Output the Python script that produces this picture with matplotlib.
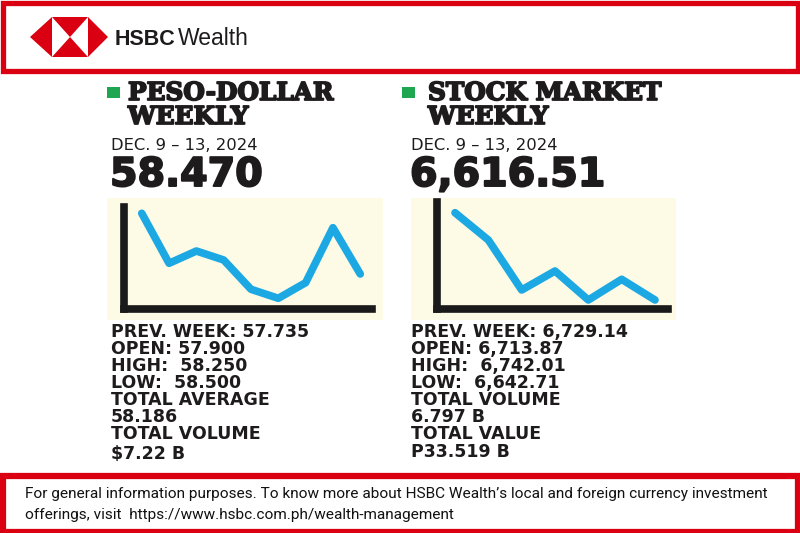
import matplotlib
matplotlib.use("Agg")
import matplotlib.pyplot as plt
import matplotlib.patheffects as pe
from matplotlib.patches import Polygon, Rectangle
from matplotlib import font_manager as fm

# ---------------- data (relative heights read from the sparklines) -------------
peso_days = list(range(9))
peso_values = [95.7, 45.7, 58.0, 49.0, 19.7, 10.7, 26.3, 81.3, 35.0]

psei_days = list(range(7))
psei_values = [96.3, 69.0, 19.0, 38.0, 9.0, 29.7, 9.0]

peso_title = ["PESO-DOLLAR", "WEEKLY"]
psei_title = ["STOCK MARKET", "WEEKLY"]
date_label = "DEC. 9 \u2013 13, 2024"
peso_close = "58.470"
psei_close = "6,616.51"

peso_stats = ["PREV. WEEK: 57.735", "OPEN: 57.900", "HIGH:  58.250", "LOW:  58.500",
              "TOTAL AVERAGE", "58.186", "TOTAL VOLUME", "$7.22 B"]
psei_stats = ["PREV. WEEK: 6,729.14", "OPEN: 6,713.87", "HIGH:  6,742.01", "LOW:  6,642.71",
              "TOTAL VOLUME", "6.797 B", "TOTAL VALUE", "P33.519 B"]

footer_lines = ["For general information purposes. To know more about HSBC Wealth\u2019s local and foreign currency investment",
                "offerings, visit  https://www.hsbc.com.ph/wealth-management"]

# ---------------- style ----------------
RED = "#DB0011"
GREEN = "#1FA650"
BLUE = "#1CA8E3"
INK = "#1E1B1C"
PANEL = "#FDFAE6"

installed = {f.name for f in fm.fontManager.ttflist}
foot_font = "Liberation Sans Narrow" if "Liberation Sans Narrow" in installed else (
    "Roboto" if "Roboto" in installed else "DejaVu Sans")

W, H = 800, 533
fig = plt.figure(figsize=(W / 100, H / 100), dpi=100)
fig.patch.set_facecolor("white")

# overlay axes in pixel coordinates (y downward) for decoration and text
ov = fig.add_axes([0, 0, 1, 1])
ov.set_xlim(0, W)
ov.set_ylim(H, 0)
ov.axis("off")
ov.set_zorder(0)

# header box
ov.add_patch(Rectangle((2.5, 2.5), W - 5, 68, fill=False, ec=RED, lw=3.8))
# HSBC hexagon
sq_l, sq_r, top, bot, mid = 52, 88, 17, 57, 37
ov.add_patch(Polygon([(30, mid), (sq_l, top), (sq_l, bot)], closed=True, fc=RED, ec="none"))
ov.add_patch(Polygon([(108, mid), (sq_r, top), (sq_r, bot)], closed=True, fc=RED, ec="none"))
ov.add_patch(Polygon([(sq_l, top), (sq_r, top), ((sq_l + sq_r) / 2, mid)], closed=True, fc=RED, ec="none"))
ov.add_patch(Polygon([(sq_l, bot), (sq_r, bot), ((sq_l + sq_r) / 2, mid)], closed=True, fc=RED, ec="none"))
ov.text(115, 45, "HSBC", fontsize=15.5, fontweight="bold", family="Liberation Sans",
        color=INK, va="baseline", ha="left")
ov.text(178, 45, "Wealth", fontsize=16.5, family="Liberation Sans",
        color=INK, va="baseline", ha="left")

# footer box
ov.add_patch(Rectangle((2.5, 475.5), W - 5, 56, fill=False, ec=RED, lw=4.5))
ov.text(25, 498, footer_lines[0], fontsize=11.1, family=foot_font, color="#111111",
        va="baseline", ha="left")
ov.text(25, 519, footer_lines[1], fontsize=11.1, family=foot_font, color="#111111",
        va="baseline", ha="left")

heavy_title = [pe.withStroke(linewidth=1.3, foreground=INK)]
heavy_num = [pe.withStroke(linewidth=1.4, foreground=INK)]


def column(x_sq, x_title, x_text, titles, close, stats, baselines, panel, ax_box,
           days, values, xlim, ylim):
    # green bullet
    ov.add_patch(Rectangle((x_sq, 87), 13, 11, fc=GREEN, ec="none"))
    ov.text(x_title, 100, titles[0], fontsize=17.8, fontweight="bold", family="DejaVu Serif",
            color=INK, va="baseline", ha="left", path_effects=heavy_title)
    ov.text(x_title, 124, titles[1], fontsize=17.8, fontweight="bold", family="DejaVu Serif",
            color=INK, va="baseline", ha="left", path_effects=heavy_title)
    ov.text(x_text, 150, date_label, fontsize=11.8, family="DejaVu Sans", color=INK,
            va="baseline", ha="left")
    ov.text(x_text - 1, 186, close, fontsize=28.5, fontweight="bold", family="DejaVu Sans",
            color=INK, va="baseline", ha="left", path_effects=heavy_num)
    # panel
    px0, py0, px1, py1 = panel
    ov.add_patch(Rectangle((px0, py0), px1 - px0, py1 - py0, fc=PANEL, ec="none"))
    for s, yb in zip(stats, baselines):
        ov.text(x_text, yb, s, fontsize=12.5, fontweight="bold", family="DejaVu Sans",
                color=INK, va="baseline", ha="left")
    # sparkline axes
    x0, y0, x1, y1 = ax_box
    ax = fig.add_axes([x0 / W, 1 - y1 / H, (x1 - x0) / W, (y1 - y0) / H])
    ax.set_zorder(2)
    ax.patch.set_alpha(0)
    ax.plot(days, values, color=BLUE, lw=5.5, solid_capstyle="round",
            solid_joinstyle="round", clip_on=False)
    ax.set_xlim(*xlim)
    ax.set_ylim(*ylim)
    for side in ("top", "right"):
        ax.spines[side].set_visible(False)
    for side in ("left", "bottom"):
        ax.spines[side].set_linewidth(5.5)
        ax.spines[side].set_color("#1A1A1A")
        ax.spines[side].set_capstyle("projecting")
    ax.set_xticks([])
    ax.set_yticks([])
    return ax


column(107, 128, 111, peso_title, peso_close, peso_stats,
       [337, 354, 371, 388, 405, 422, 439, 459],
       (107, 198, 383, 320), (124, 207, 372, 309),
       peso_days, peso_values, (-0.65, 8.43), (0, 102))

column(402, 428, 411, psei_title, psei_close, psei_stats,
       [337, 354, 371, 388, 405, 422, 439, 457],
       (411, 198, 676, 320), (437, 202, 668, 309),
       psei_days, psei_values, (-0.54, 6.39), (0, 107))

fig.savefig("out.png", dpi=100, facecolor="white")
